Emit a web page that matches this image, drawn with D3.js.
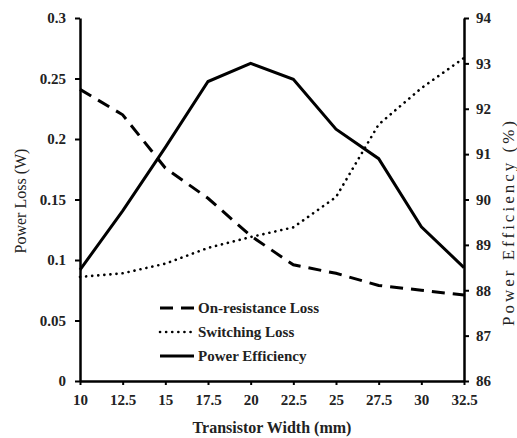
<!DOCTYPE html>
<html>
<head>
<meta charset="utf-8">
<script src="https://cdn.jsdelivr.net/npm/d3@7"></script>
<style>
  body { margin: 0; background: #fff; }
  text { font-family: "Liberation Serif", "Times New Roman", serif; fill: #222; }
</style>
</head>
<body>
<svg id="chart" width="517" height="438"></svg>
<script>
const widths = [10, 12.5, 15, 17.5, 20, 22.5, 25, 27.5, 30, 32.5];
const onResistanceLoss = [0.241, 0.22, 0.176, 0.151, 0.12, 0.096, 0.089, 0.079, 0.075, 0.071];
const switchingLoss = [0.086, 0.089, 0.097, 0.11, 0.119, 0.127, 0.152, 0.212, 0.242, 0.267];
const efficiency = [88.45, 89.75, 91.15, 92.6, 93.0, 92.65, 91.55, 90.9, 89.4, 88.5];
const lossTicks = [0, 0.05, 0.1, 0.15, 0.2, 0.25, 0.3];
const effTicks = [86, 87, 88, 89, 90, 91, 92, 93, 94];

const svg = d3.select("#chart");
const plot = { left: 80, right: 464, top: 18, bottom: 381 };

const x = d3.scaleLinear().domain([10, 32.5]).range([plot.left, plot.right]);
const yLoss = d3.scaleLinear().domain([0, 0.3]).range([plot.bottom, plot.top]);
const yEff = d3.scaleLinear().domain([86, 94]).range([plot.bottom, plot.top]);

// lines
const lineLoss = d3.line().x((d, i) => x(widths[i])).y((d) => yLoss(d));
const lineEff = d3.line().x((d, i) => x(widths[i])).y((d) => yEff(d));

svg.append("path")
  .attr("d", lineLoss(onResistanceLoss))
  .attr("fill", "none").attr("stroke", "#000").attr("stroke-width", 3)
  .attr("stroke-dasharray", "13,8");

svg.append("path")
  .attr("d", lineLoss(switchingLoss))
  .attr("fill", "none").attr("stroke", "#000").attr("stroke-width", 2.6)
  .attr("stroke-linecap", "round")
  .attr("stroke-dasharray", "0.1,6");

svg.append("path")
  .attr("d", lineEff(efficiency))
  .attr("fill", "none").attr("stroke", "#000").attr("stroke-width", 3);

// axes
const axisStyle = (g) => {
  g.select(".domain").attr("stroke", "#000").attr("stroke-width", 2.5);
  g.selectAll(".tick line").attr("stroke", "#000").attr("stroke-width", 2);
  g.selectAll(".tick text")
    .attr("font-family", "Liberation Serif, Times New Roman, serif")
    .attr("font-weight", "bold").attr("font-size", 15).attr("fill", "#222");
};

svg.append("g")
  .attr("transform", `translate(0,${plot.bottom})`)
  .call(d3.axisBottom(x).tickValues(widths).tickSize(4).tickSizeOuter(0).tickPadding(9).tickFormat(d3.format("")))
  .call(axisStyle);

svg.append("g")
  .attr("transform", `translate(${plot.left},0)`)
  .call(d3.axisLeft(yLoss).tickValues(lossTicks).tickSize(5).tickSizeOuter(0).tickPadding(9).tickFormat(d3.format("")))
  .call(axisStyle);

svg.append("g")
  .attr("transform", `translate(${plot.right},0)`)
  .call(d3.axisRight(yEff).tickValues(effTicks).tickSize(5).tickSizeOuter(0).tickPadding(7))
  .call(axisStyle);

// axis titles
svg.append("text")
  .attr("transform", `translate(26,201) rotate(-90)`)
  .attr("text-anchor", "middle").attr("font-size", 16)
  .text("Power Loss (W)");

svg.append("text")
  .attr("transform", `translate(514,222) rotate(-90)`)
  .attr("text-anchor", "middle").attr("font-size", 17)
  .attr("letter-spacing", 3)
  .text("Power Efficiency (%)");

svg.append("text")
  .attr("x", 272).attr("y", 433)
  .attr("text-anchor", "middle").attr("font-size", 16).attr("font-weight", "bold")
  .text("Transistor Width (mm)");

// legend
const legendItems = [
  { label: "On-resistance Loss", dash: "13,8", cap: "butt", w: 3 },
  { label: "Switching Loss", dash: "0.1,6", cap: "round", w: 2.6 },
  { label: "Power Efficiency", dash: null, cap: "butt", w: 3 }
];
const legend = svg.append("g").attr("transform", "translate(160,308)");
legendItems.forEach((item, i) => {
  const g = legend.append("g").attr("transform", `translate(0,${i * 24})`);
  g.append("line").attr("x1", 0).attr("x2", 34).attr("y1", 0).attr("y2", 0)
    .attr("stroke", "#000").attr("stroke-width", item.w)
    .attr("stroke-linecap", item.cap)
    .attr("stroke-dasharray", item.dash);
  g.append("text").attr("x", 38).attr("y", 5)
    .attr("font-size", 15).attr("font-weight", "bold").text(item.label);
});
</script>
</body>
</html>
